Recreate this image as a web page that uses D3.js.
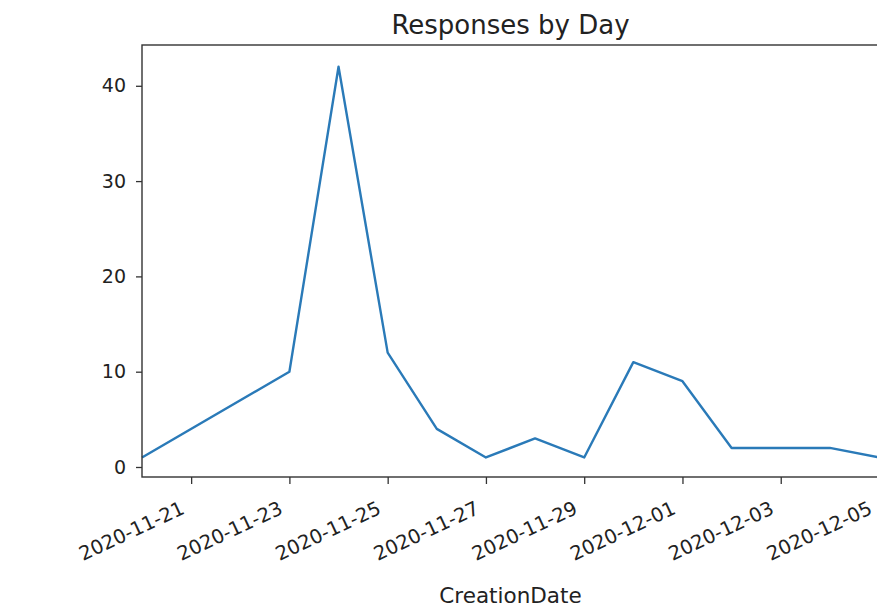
<!DOCTYPE html>
<html>
<head>
<meta charset="utf-8">
<script src="https://cdn.jsdelivr.net/npm/d3@7"></script>
<style>
  body { margin: 0; background: #fff; }
  text { font-family: "DejaVu Sans", sans-serif; fill: #222; }
</style>
</head>
<body>
<svg id="chart" width="877" height="608"></svg>
<script>
// data
const dates = ["2020-11-20", "2020-11-23", "2020-11-24", "2020-11-25", "2020-11-26",
  "2020-11-27", "2020-11-28", "2020-11-29", "2020-11-30", "2020-12-01",
  "2020-12-02", "2020-12-03", "2020-12-04", "2020-12-05"];
const counts = [1, 10, 42, 12, 4, 1, 3, 1, 11, 9, 2, 2, 2, 1];
const yTicks = [0, 10, 20, 30, 40];
const xTickLabels = ["2020-11-21", "2020-11-23", "2020-11-25", "2020-11-27",
  "2020-11-29", "2020-12-01", "2020-12-03", "2020-12-05"];

const parseDate = d3.utcParse("%Y-%m-%d");
const data = dates.map((d, i) => ({ date: parseDate(d), value: counts[i] }));

const svg = d3.select("#chart");
const m = { left: 142, right: 879, top: 45, bottom: 477 };

const x = d3.scaleUtc()
    .domain([parseDate("2020-11-20"), parseDate("2020-12-05")])
    .range([m.left, m.right]);
const y = d3.scaleLinear()
    .domain([-1.05, 44.28])
    .range([m.bottom, m.top]);

// line
const line = d3.line()
    .x(d => x(d.date))
    .y(d => y(d.value));

svg.append("path")
    .datum(data)
    .attr("fill", "none")
    .attr("stroke", "#2a7ab8")
    .attr("stroke-width", 2.4)
    .attr("stroke-linejoin", "round")
    .attr("d", line);

// y axis
const yAxis = svg.append("g")
    .attr("transform", `translate(${m.left},0)`)
    .call(d3.axisLeft(y).tickValues(yTicks).tickSize(6).tickPadding(10).tickSizeOuter(0));
yAxis.select(".domain").remove();
yAxis.selectAll("line").attr("stroke", "#333").attr("stroke-width", 1.3);
yAxis.selectAll("text").attr("font-size", 19).attr("fill", "#222")
    .attr("font-family", "DejaVu Sans");

// x axis, labels tilted like autofmt_xdate
const xAxis = svg.append("g")
    .attr("transform", `translate(0,${m.bottom})`)
    .call(d3.axisBottom(x)
      .tickValues(xTickLabels.map(parseDate))
      .tickFormat(d3.utcFormat("%Y-%m-%d"))
      .tickSize(7).tickSizeOuter(0));
xAxis.select(".domain").remove();
xAxis.selectAll("line").attr("stroke", "#333").attr("stroke-width", 1.3);
xAxis.selectAll("text")
    .attr("font-size", 19.5)
    .attr("fill", "#222")
    .attr("font-family", "DejaVu Sans")
    .attr("text-anchor", "end")
    .attr("x", 0).attr("y", 0).attr("dy", 0)
    .attr("transform", "translate(-6,36) rotate(-25)");

// frame (left, top, bottom; right edge falls off the canvas)
svg.append("rect")
    .attr("x", m.left).attr("y", m.top)
    .attr("width", m.right - m.left).attr("height", m.bottom - m.top)
    .attr("fill", "none")
    .attr("stroke", "#333")
    .attr("stroke-width", 1.4);

// title and label
svg.append("text")
    .attr("x", (m.left + m.right) / 2).attr("y", 34)
    .attr("text-anchor", "middle")
    .attr("font-size", 26)
    .text("Responses by Day");

svg.append("text")
    .attr("x", (m.left + m.right) / 2).attr("y", 603)
    .attr("text-anchor", "middle")
    .attr("font-size", 21.5)
    .text("CreationDate");
</script>
</body>
</html>
